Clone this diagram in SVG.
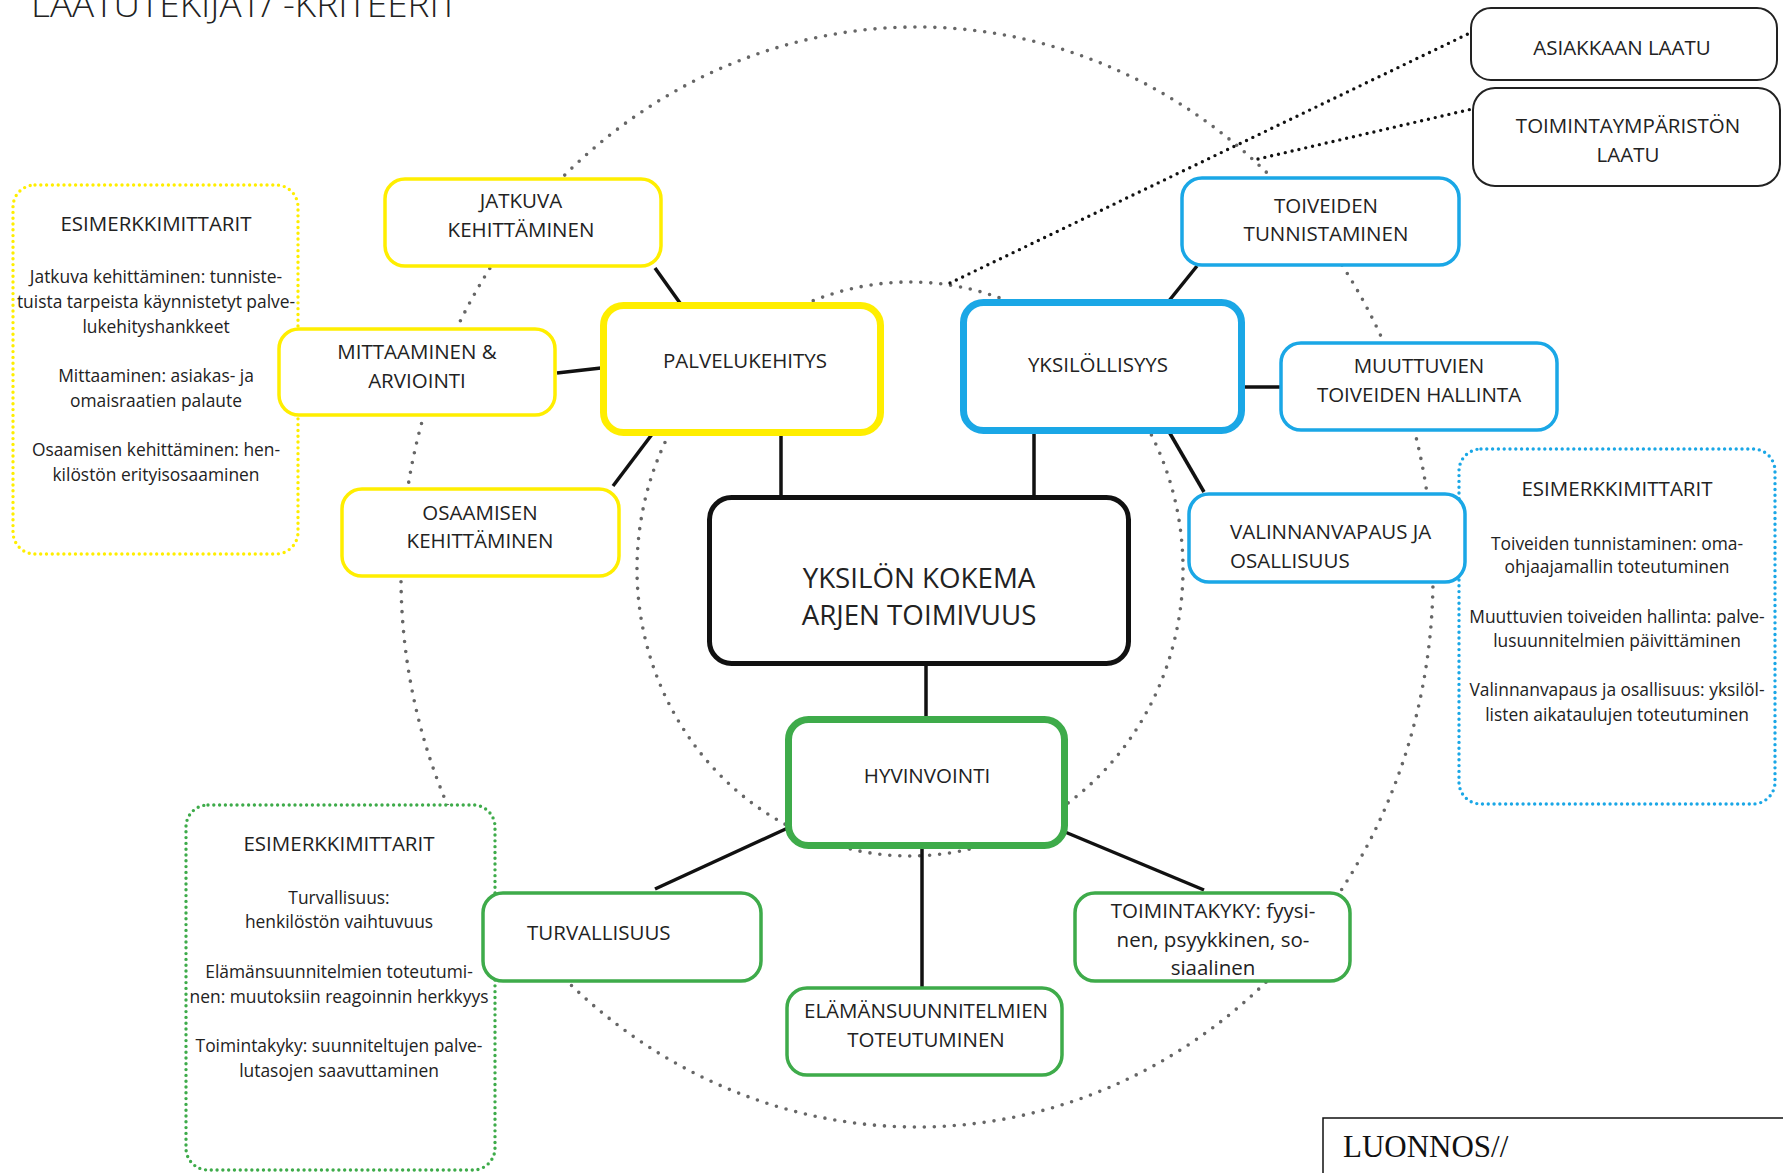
<svg xmlns="http://www.w3.org/2000/svg" width="1783" height="1173" viewBox="0 0 1783 1173">
<style>
text{font-family:"Open Sans","Noto Sans","Liberation Sans",sans-serif;fill:#222}
.t{font-size:20.5px;text-anchor:middle}
.tl{font-size:20.5px;text-anchor:start}
.ex{font-size:17.4px;text-anchor:middle}
.exh{font-size:20.5px;text-anchor:middle}
.box{fill:#fff;stroke-width:3.5}
.thick{fill:#fff;stroke-width:7}
.y{stroke:#FFEE00}
.b{stroke:#1AA7E6}
.g{stroke:#3EAB4A}
.k{stroke:#111}
.ring{fill:none;stroke:#666;stroke-width:3.6;stroke-linecap:round;stroke-dasharray:0 10}
.dotk{fill:none;stroke:#111;stroke-width:3.4;stroke-linecap:round;stroke-dasharray:0 7}
.exbox{fill:#fff;stroke-width:3.4;stroke-linecap:round;stroke-dasharray:0 5.8}
#connectors line{stroke:#111;stroke-width:3.5}
</style>

<text x="31" y="17" textLength="427" lengthAdjust="spacingAndGlyphs" style="font-size:35.4px;font-weight:300">LAATUTEKIJAT/ -KRITEERIT</text>

<g id="rings">
<ellipse class="ring" cx="917" cy="577" rx="516" ry="550"/>
<ellipse class="ring" cx="910" cy="569" rx="273" ry="287"/>
</g>

<g id="connectors">
<line x1="655" y1="268" x2="680" y2="303"/>
<line x1="557" y1="373" x2="601" y2="368"/>
<line x1="613" y1="486" x2="653" y2="433"/>
<line x1="781" y1="434" x2="781" y2="496"/>
<line x1="1034" y1="432" x2="1034" y2="496"/>
<line x1="1197" y1="266" x2="1168" y2="302"/>
<line x1="1244" y1="387" x2="1280" y2="387"/>
<line x1="1168" y1="430" x2="1204" y2="492"/>
<line x1="926" y1="665" x2="926" y2="717"/>
<line x1="790" y1="827" x2="655" y2="889"/>
<line x1="922" y1="847" x2="922" y2="987"/>
<line x1="1065" y1="832" x2="1204" y2="890"/>
<path class="dotk" d="M950,283 L1470,33"/>
<path class="dotk" d="M1258,159 L1472,109"/>
</g>

<g id="ex-yellow">
<rect class="exbox y" x="13" y="185" width="285" height="369" rx="22"/>
<text class="exh" x="156" y="231">ESIMERKKIMITTARIT</text>
<text class="ex" x="156" y="283">Jatkuva kehittäminen: tunniste-</text>
<text class="ex" x="156" y="308">tuista tarpeista käynnistetyt palve-</text>
<text class="ex" x="156" y="333">lukehityshankkeet</text>
<text class="ex" x="156" y="382">Mittaaminen: asiakas- ja</text>
<text class="ex" x="156" y="407">omaisraatien palaute</text>
<text class="ex" x="156" y="456">Osaamisen kehittäminen: hen-</text>
<text class="ex" x="156" y="481">kilöstön erityisosaaminen</text>
</g>

<g id="ex-blue">
<rect class="exbox b" x="1459" y="449" width="316" height="355" rx="22"/>
<text class="exh" x="1617" y="496">ESIMERKKIMITTARIT</text>
<text class="ex" x="1617" y="550">Toiveiden tunnistaminen: oma-</text>
<text class="ex" x="1617" y="573">ohjaajamallin toteutuminen</text>
<text class="ex" x="1617" y="623">Muuttuvien toiveiden hallinta: palve-</text>
<text class="ex" x="1617" y="647">lusuunnitelmien päivittäminen</text>
<text class="ex" x="1617" y="696">Valinnanvapaus ja osallisuus: yksilöl-</text>
<text class="ex" x="1617" y="721">listen aikataulujen toteutuminen</text>
</g>

<g id="ex-green">
<rect class="exbox g" x="186" y="805" width="309" height="365" rx="22"/>
<text class="exh" x="339" y="851">ESIMERKKIMITTARIT</text>
<text class="ex" x="339" y="904">Turvallisuus:</text>
<text class="ex" x="339" y="928">henkilöstön vaihtuvuus</text>
<text class="ex" x="339" y="978">Elämänsuunnitelmien toteutumi-</text>
<text class="ex" x="339" y="1003">nen: muutoksiin reagoinnin herkkyys</text>
<text class="ex" x="339" y="1052">Toimintakyky: suunniteltujen palve-</text>
<text class="ex" x="339" y="1077">lutasojen saavuttaminen</text>
</g>

<g id="asiakkaan-laatu">
<rect x="1471" y="8" width="306" height="72" rx="20" fill="#fff" stroke="#222" stroke-width="2"/>
<text class="t" x="1622" y="55">ASIAKKAAN LAATU</text>
</g>
<g id="toimintaymparisto">
<rect x="1473" y="88" width="307" height="98" rx="22" fill="#fff" stroke="#222" stroke-width="2"/>
<text class="t" x="1628" y="133">TOIMINTAYMPÄRISTÖN</text>
<text class="t" x="1628" y="162">LAATU</text>
</g>

<g id="jatkuva">
<rect class="box y" x="385" y="179" width="276" height="87" rx="20"/>
<text class="t" x="521" y="208">JATKUVA</text>
<text class="t" x="521" y="237">KEHITTÄMINEN</text>
</g>
<g id="mittaaminen">
<rect class="box y" x="279" y="329" width="276" height="86" rx="20"/>
<text class="t" x="417" y="359">MITTAAMINEN &amp;</text>
<text class="t" x="417" y="388">ARVIOINTI</text>
</g>
<g id="osaamisen">
<rect class="box y" x="342" y="489" width="277" height="87" rx="20"/>
<text class="t" x="480" y="520">OSAAMISEN</text>
<text class="t" x="480" y="548">KEHITTÄMINEN</text>
</g>
<g id="palvelukehitys">
<rect class="thick y" x="603.5" y="305.5" width="277" height="127" rx="20"/>
<text class="t" x="745" y="368">PALVELUKEHITYS</text>
</g>

<g id="toiveiden">
<rect class="box b" x="1182" y="178" width="277" height="87" rx="20"/>
<text class="t" x="1326" y="213">TOIVEIDEN</text>
<text class="t" x="1326" y="241">TUNNISTAMINEN</text>
</g>
<g id="muuttuvien">
<rect class="box b" x="1281" y="343" width="276" height="87" rx="20"/>
<text class="t" x="1419" y="373">MUUTTUVIEN</text>
<text class="t" x="1419" y="402">TOIVEIDEN HALLINTA</text>
</g>
<g id="valinnanvapaus">
<rect class="box b" x="1189" y="494" width="276" height="88" rx="20"/>
<text class="tl" x="1230" y="539">VALINNANVAPAUS JA</text>
<text class="tl" x="1230" y="568">OSALLISUUS</text>
</g>
<g id="yksilollisyys">
<rect class="thick b" x="963.5" y="302.5" width="278" height="128" rx="20"/>
<text class="t" x="1098" y="372">YKSILÖLLISYYS</text>
</g>

<g id="keskus">
<rect x="709.5" y="497.5" width="419" height="166" rx="22" fill="#fff" stroke="#111" stroke-width="5"/>
<text x="919" y="588" style="font-size:27.7px;text-anchor:middle">YKSILÖN KOKEMA</text>
<text x="919" y="625" style="font-size:27.7px;text-anchor:middle">ARJEN TOIMIVUUS</text>
</g>

<g id="hyvinvointi">
<rect class="thick g" x="788.5" y="719.5" width="276" height="126" rx="20"/>
<text class="t" x="927" y="783">HYVINVOINTI</text>
</g>
<g id="turvallisuus">
<rect class="box g" x="483" y="893" width="278" height="88" rx="20"/>
<text class="tl" x="527" y="940">TURVALLISUUS</text>
</g>
<g id="elamansuunnitelmat">
<rect class="box g" x="787" y="988" width="275" height="87" rx="20"/>
<text class="t" x="926" y="1018">ELÄMÄNSUUNNITELMIEN</text>
<text class="t" x="926" y="1047">TOTEUTUMINEN</text>
</g>
<g id="toimintakyky">
<rect class="box g" x="1075" y="893" width="275" height="88" rx="20"/>
<text class="t" x="1213" y="918">TOIMINTAKYKY: fyysi-</text>
<text class="t" x="1213" y="947">nen, psyykkinen, so-</text>
<text class="t" x="1213" y="975">siaalinen</text>
</g>

<g id="luonnos">
<rect x="1323" y="1118" width="480" height="80" fill="#fff" stroke="#111" stroke-width="1.5"/>
<text x="1343" y="1157" style="font-family:'Liberation Serif',serif;font-size:31px;fill:#111">LUONNOS//</text>
</g>
</svg>
